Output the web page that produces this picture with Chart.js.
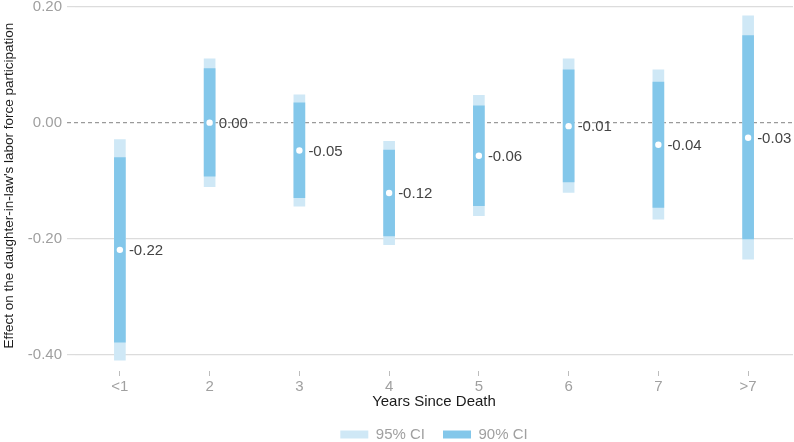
<!DOCTYPE html>
<html>
<head>
<meta charset="utf-8">
<script src="https://cdn.jsdelivr.net/npm/chart.js@4/dist/chart.umd.min.js"></script>
<style>
  body { margin: 0; background: #fff; }
  #wrap { width: 794px; height: 442px; }
</style>
</head>
<body>
<div id="wrap"><canvas id="effects" width="794" height="442"></canvas></div>
<script>
// event-study estimates, one per year since death
var categories = ['<1', '2', '3', '4', '5', '6', '7', '>7'];
var estimates = [-0.219, 0.000, -0.048, -0.121, -0.057, -0.006, -0.038, -0.026];
var ci95Low  = [-0.409, -0.110, -0.144, -0.210, -0.160, -0.120, -0.166, -0.235];
var ci95High = [-0.029, 0.110, 0.048, -0.032, 0.047, 0.110, 0.091, 0.184];
var ci90Low  = [-0.378, -0.092, -0.129, -0.195, -0.143, -0.102, -0.146, -0.200];
var ci90High = [-0.060, 0.093, 0.034, -0.047, 0.029, 0.091, 0.070, 0.150];
var yTicks = [-0.40, -0.20, 0.00, 0.20];

var FONT = "'Liberation Sans', Arial, sans-serif";

function pairs(lo, hi) {
  return lo.map(function (v, i) { return [v, hi[i]]; });
}

// dashed reference line at zero, under the bars
var zeroLine = {
  id: 'zeroLine',
  beforeDatasetsDraw: function (chart) {
    var y = chart.scales.y.getPixelForValue(0);
    var ctx = chart.ctx;
    ctx.save();
    ctx.strokeStyle = '#9a9a9a';
    ctx.lineWidth = 1.2;
    ctx.setLineDash([4, 3]);
    ctx.beginPath();
    ctx.moveTo(chart.chartArea.left - 8, y);
    ctx.lineTo(chart.chartArea.right, y);
    ctx.stroke();
    ctx.restore();
  }
};

// estimate printed next to each point
var pointLabels = {
  id: 'pointLabels',
  afterDatasetsDraw: function (chart) {
    var meta = chart.getDatasetMeta(2);
    var ctx = chart.ctx;
    ctx.save();
    ctx.font = '15px ' + FONT;
    ctx.fillStyle = '#444';
    ctx.textAlign = 'left';
    ctx.textBaseline = 'middle';
    meta.data.forEach(function (pt, i) {
      ctx.fillText(estimates[i].toFixed(2), pt.x + 9, pt.y + 1);
    });
    ctx.restore();
  }
};

new Chart(document.getElementById('effects'), {
  type: 'bar',
  data: {
    labels: categories,
    datasets: [
      {
        label: '95% CI',
        data: pairs(ci95Low, ci95High),
        backgroundColor: '#cfe8f6',
        barThickness: 11,
        borderSkipped: false,
        order: 2
      },
      {
        label: '90% CI',
        data: pairs(ci90Low, ci90High),
        backgroundColor: '#83c7ea',
        barThickness: 11,
        borderSkipped: false,
        order: 1
      },
      {
        type: 'line',
        label: 'estimate',
        data: estimates,
        showLine: false,
        pointRadius: 3.2,
        pointBackgroundColor: '#fff',
        pointBorderWidth: 0,
        order: 0
      }
    ]
  },
  options: {
    responsive: false,
    animation: false,
    events: [],
    layout: { autoPadding: false, padding: { top: 0, left: 0, right: 1, bottom: -10 } },
    datasets: { bar: { grouped: false } },
    plugins: {
      tooltip: { enabled: false },
      legend: {
        position: 'bottom',
        fullSize: false,
        labels: {
          boxWidth: 28,
          boxHeight: 8,
          padding: 18,
          color: '#a0a0a0',
          font: { family: FONT, size: 15 },
          filter: function (item) { return item.datasetIndex < 2; },
          sort: function (a, b) { return a.datasetIndex - b.datasetIndex; }
        }
      }
    },
    scales: {
      x: {
        border: { display: false },
        grid: {
          drawOnChartArea: false,
          drawTicks: true,
          tickLength: 5,
          tickColor: '#bdbdbd',
          offset: false
        },
        ticks: {
          color: '#a0a0a0',
          padding: 2,
          font: { family: FONT, size: 15 }
        },
        title: {
          display: true,
          text: 'Years Since Death',
          color: '#1a1a1a',
          padding: 0,
          font: { family: FONT, size: 15, lineHeight: 1 }
        },
        afterFit: function (scale) {
          scale.height = 38;
          scale.paddingLeft = 0;
          scale.paddingRight = 0;
        }
      },
      y: {
        min: -0.4276,
        max: 0.2112,
        border: { display: false },
        grid: {
          color: function (c) { return c.tick && c.tick.value === 0 ? 'rgba(0,0,0,0)' : '#dcdcdc'; },
          lineWidth: 1.2,
          tickLength: 8
        },
        afterBuildTicks: function (scale) {
          scale.ticks = yTicks.map(function (v) { return { value: v }; });
        },
        ticks: {
          color: '#a0a0a0',
          padding: 5,
          font: { family: FONT, size: 15 },
          callback: function (v) { return Number(v).toFixed(2); }
        },
        title: {
          display: true,
          text: "Effect on the daughter-in-law's labor force participation",
          color: '#1a1a1a',
          padding: { top: 1, bottom: 0 },
          font: { family: FONT, size: 13.5 }
        },
        afterFit: function (scale) {
          scale.width = 75;
          scale.paddingTop = 0;
          scale.paddingBottom = 0;
        }
      }
    }
  },
  plugins: [zeroLine, pointLabels]
});
</script>
</body>
</html>
